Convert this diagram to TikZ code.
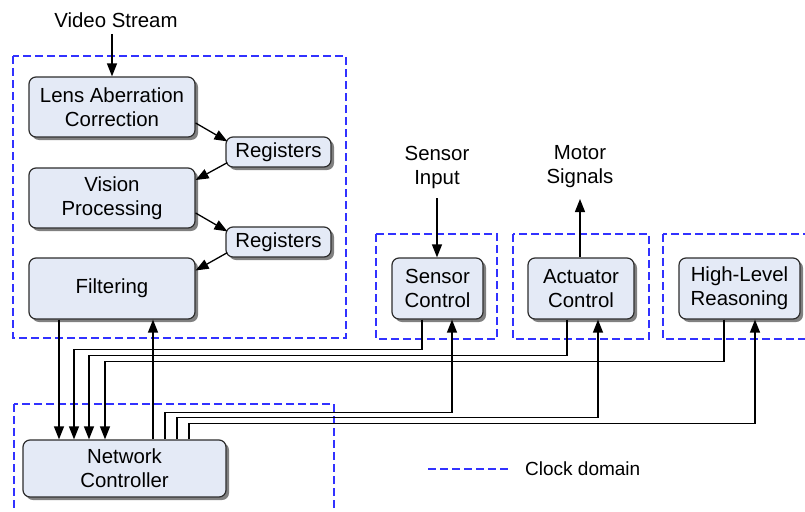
\documentclass[tikz,border=0pt]{standalone}
\usepackage{fontspec}
\setmainfont{Liberation Sans}
\usetikzlibrary{arrows.meta,shadows}
\definecolor{boxfill}{RGB}{228,234,246}
\definecolor{boxline}{RGB}{45,45,45}
\definecolor{clkblue}{RGB}{50,50,255}
\begin{document}
\begin{tikzpicture}[x=1pt,y=-1pt,
  txt/.style={font=\fontsize{20.4}{24}\selectfont, align=center, inner sep=0pt},
  blk/.style={txt, draw=boxline, line width=1.2pt, fill=boxfill, rounded corners=7pt,
    drop shadow={shadow xshift=3pt, shadow yshift=-3pt, fill=black!50, opacity=1}},
  arr/.style={draw=black, line width=1.3pt, -{Triangle[length=13pt,width=10pt]}},
  clk/.style={draw=clkblue, line width=1.1pt, dash pattern=on 8pt off 4pt}]

\useasboundingbox (0,0) rectangle (805,511);

% clock domains
\draw[clk] (13,56) rectangle (346,338);
\draw[clk] (14,404) rectangle (334,530);
\draw[clk] (376,234) rectangle (497,339);
\draw[clk] (513,234) rectangle (649,339);
\draw[clk] (663,234) rectangle (830,339);

% vision pipeline
\node[blk, minimum width=166pt, minimum height=60pt] (lens) at (112,107)
  {Lens Aberration\\Correction};
\node[blk, minimum width=105pt, minimum height=30pt] (reg1) at (278.5,152) {Registers};
\node[blk, minimum width=166pt, minimum height=60pt] (vision) at (112,198)
  {Vision\\Processing};
\node[blk, minimum width=105pt, minimum height=30pt] (reg2) at (278.5,242) {Registers};
\node[blk, minimum width=166pt, minimum height=61pt] (filt) at (112,288.5) {Filtering};

% controllers
\node[blk, minimum width=203pt, minimum height=57pt] (nc) at (124.5,468.5)
  {Network\\Controller};
\node[blk, minimum width=91pt, minimum height=61pt] (sensor) at (437.5,288.5)
  {Sensor\\Control};
\node[blk, minimum width=106pt, minimum height=61pt] (act) at (581,288.5)
  {Actuator\\Control};
\node[blk, minimum width=121pt, minimum height=61pt] (hl) at (739.5,288.5)
  {High-Level\\Reasoning};

% external labels
\node[txt] (video) at (116,20) {Video Stream};
\node[txt] (sin) at (437,167) {Sensor\\Input};
\node[txt] (motor) at (580,167) {Motor\\Signals};

% legend
\coordinate (lg1) at (428,469);
\coordinate (lg2) at (509,469);
\draw[clk] (lg1) -- (lg2);
\node[font=\fontsize{19}{22}\selectfont, anchor=west, inner sep=0pt] (lgt) at (525,469) {Clock domain};

% inputs and outputs
\coordinate (vtop) at (112,34);
\draw[arr] (vtop) -- (vtop |- lens.north);
\coordinate (stop) at (437,198);
\draw[arr] (stop) -- (stop |- sensor.north);
\coordinate (mtop) at (580,199);
\draw[arr] (mtop |- act.north) -- (mtop);

% pipeline arrows
\draw[arr] ([yshift=-16pt]lens.east) -- ([xshift=2pt,yshift=-5pt]reg1.north west);
\draw[arr] ([xshift=2pt,yshift=5pt]reg1.south west) -- ([yshift=18pt]vision.east);
\draw[arr] ([yshift=-15pt]vision.east) -- ([xshift=2pt,yshift=-5pt]reg2.north west);
\draw[arr] ([xshift=2pt,yshift=5pt]reg2.south west) -- ([yshift=18pt]filt.east);

% network controller ports
\coordinate (n1) at ([xshift=-65.5pt]nc.north);
\coordinate (n2) at ([xshift=-50.5pt]nc.north);
\coordinate (n3) at ([xshift=-35.5pt]nc.north);
\coordinate (n4) at ([xshift=-19.5pt]nc.north);
\coordinate (n5) at ([xshift=28.5pt]nc.north);
\coordinate (n6) at ([xshift=40.5pt]nc.north);
\coordinate (n7) at ([xshift=52.5pt]nc.north);
\coordinate (n8) at ([xshift=64.5pt]nc.north);

\coordinate (s_out) at ([xshift=-15.5pt]sensor.south);
\coordinate (s_in)  at ([xshift=14.5pt]sensor.south);
\coordinate (a_out) at ([xshift=-14pt]act.south);
\coordinate (a_in)  at ([xshift=17pt]act.south);
\coordinate (h_out) at ([xshift=-15.5pt]hl.south);
\coordinate (h_in)  at ([xshift=15.5pt]hl.south);

% filtering <-> network controller
\draw[arr] (n1 |- filt.south) -- (n1);
\draw[arr] (n5) -- (n5 |- filt.south);

% controllers -> network controller
\draw[arr] (s_out) -- ++(0,30) -| (n2);
\draw[arr] (a_out) -- ++(0,36) -| (n3);
\draw[arr] (h_out) -- ++(0,42) -| (n4);

% network controller -> controllers
\draw[arr] (n6) -- ++(0,-27) -| (s_in);
\draw[arr] (n7) -- ++(0,-22) -| (a_in);
\draw[arr] (n8) -- ++(0,-16) -| (h_in);

\end{tikzpicture}
\end{document}
